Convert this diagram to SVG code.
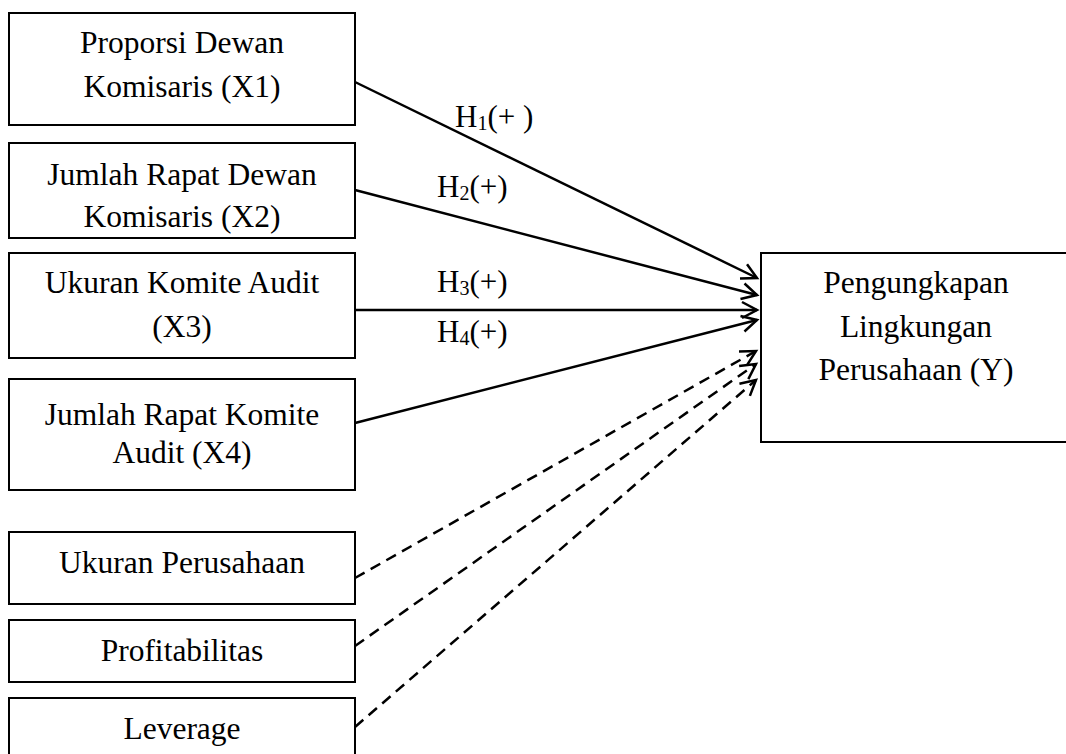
<svg xmlns="http://www.w3.org/2000/svg" width="1066" height="754" viewBox="0 0 1066 754">
  <style>
    .box { fill: #ffffff; stroke: #000000; stroke-width: 2; }
    .t { font-family: "Liberation Serif", "Times New Roman", serif; font-size: 31.5px; fill: #000000; text-anchor: middle; }
    .lbl { font-family: "Liberation Serif", "Times New Roman", serif; font-size: 31px; fill: #000000; }
    .sub { font-size: 20px; }
    .solid { stroke: #000000; stroke-width: 2.5; fill: none; marker-end: url(#arrow); }
    .dash { stroke: #000000; stroke-width: 2.5; fill: none; stroke-dasharray: 11 7; marker-end: url(#arrow); }
  </style>
  <defs>
    <marker id="arrow" markerUnits="userSpaceOnUse" markerWidth="30" markerHeight="30" viewBox="-20 -15 30 30" refX="0" refY="0" orient="auto" overflow="visible">
      <path d="M-15,-8 L0,0 L-15,8" fill="none" stroke="#000000" stroke-width="2.5" stroke-linejoin="miter"/>
    </marker>
  </defs>
  <rect width="1066" height="754" fill="#ffffff"/>

  <g id="connectors">
    <line class="solid" x1="355" y1="82" x2="757" y2="278"/>
    <line class="solid" x1="355" y1="190" x2="757" y2="295"/>
    <line class="solid" x1="355" y1="310" x2="757" y2="310"/>
    <line class="solid" x1="355" y1="423" x2="757" y2="320"/>
    <line class="dash" x1="355" y1="578" x2="756" y2="351"/>
    <line class="dash" x1="355" y1="646" x2="756" y2="364"/>
    <line class="dash" x1="355" y1="727" x2="756" y2="380"/>
    <text class="lbl" x="455" y="127">H<tspan class="sub" dy="3">1</tspan><tspan dy="-3">(+ )</tspan></text>
    <text class="lbl" x="437" y="197">H<tspan class="sub" dy="3">2</tspan><tspan dy="-3">(+)</tspan></text>
    <text class="lbl" x="437" y="292">H<tspan class="sub" dy="3">3</tspan><tspan dy="-3">(+)</tspan></text>
    <text class="lbl" x="437" y="342">H<tspan class="sub" dy="3">4</tspan><tspan dy="-3">(+)</tspan></text>
  </g>

  <g id="x1">
    <rect class="box" x="9" y="13" width="346" height="112"/>
    <text class="t" x="182" y="53">Proporsi Dewan</text>
    <text class="t" x="182" y="97">Komisaris (X1)</text>
  </g>
  <g id="x2">
    <rect class="box" x="9" y="143" width="346" height="95"/>
    <text class="t" x="182" y="185">Jumlah Rapat Dewan</text>
    <text class="t" x="182" y="227">Komisaris (X2)</text>
  </g>
  <g id="x3">
    <rect class="box" x="9" y="253" width="346" height="105"/>
    <text class="t" x="182" y="293">Ukuran Komite Audit</text>
    <text class="t" x="182" y="337">(X3)</text>
  </g>
  <g id="x4">
    <rect class="box" x="9" y="379" width="346" height="111"/>
    <text class="t" x="182" y="425">Jumlah Rapat Komite</text>
    <text class="t" x="182" y="463">Audit (X4)</text>
  </g>
  <g id="ukuran">
    <rect class="box" x="9" y="532" width="346" height="72"/>
    <text class="t" x="182" y="573">Ukuran Perusahaan</text>
  </g>
  <g id="profit">
    <rect class="box" x="9" y="620" width="346" height="62"/>
    <text class="t" x="182" y="661">Profitabilitas</text>
  </g>
  <g id="leverage">
    <rect class="box" x="9" y="698" width="346" height="70"/>
    <text class="t" x="182" y="739">Leverage</text>
  </g>
  <g id="y">
    <rect class="box" x="761" y="253" width="312" height="189"/>
    <text class="t" x="916" y="293">Pengungkapan</text>
    <text class="t" x="916" y="337">Lingkungan</text>
    <text class="t" x="916" y="380">Perusahaan (Y)</text>
  </g>
</svg>
